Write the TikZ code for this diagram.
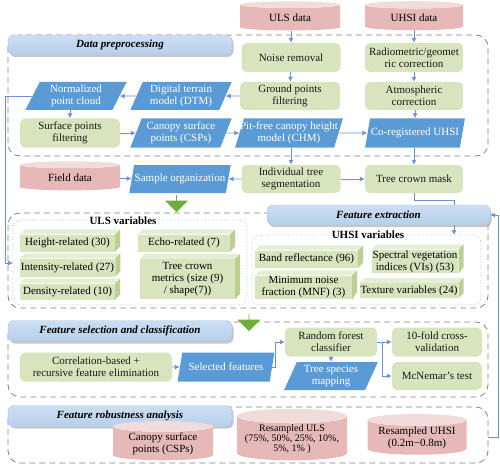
\documentclass[tikz,border=0pt]{standalone}
\usepackage{fontspec}
\setmainfont{Liberation Serif}
\usetikzlibrary{shapes.geometric,shapes.arrows,arrows.meta,shadows}
\definecolor{procgreen}{HTML}{D7E4BD}
\definecolor{vartop}{HTML}{E6EED5}
\definecolor{varside}{HTML}{BCCF92}
\definecolor{prodblue}{HTML}{5B9BD5}
\definecolor{dbbody}{HTML}{E6B9B8}
\definecolor{dbtop}{HTML}{F2DCDB}
\definecolor{bartop}{HTML}{CCDEF3}
\definecolor{barbot}{HTML}{B7CFEA}
\definecolor{barline}{HTML}{A9C4E8}
\definecolor{linkblue}{HTML}{6D92CF}
\definecolor{groupline}{HTML}{808080}
\definecolor{dotline}{HTML}{8EB4E3}
\definecolor{bigarrow}{HTML}{6DAE3C}

% 3D variable box: name, centre of front face, width, height, text
\newcommand{\varbox}[5]{%
  \node[var, minimum width=#3, minimum height=#4] (#1) at (#2) {#5};
  \fill[vartop] (#1.north west) -- ++(5,-5) -- ++(#3,0) -- (#1.north east) -- cycle;
  \fill[varside] (#1.north east) -- ++(5,-5) -- ++(0,#4) -- (#1.south east) -- cycle;
}

\begin{document}
\begin{tikzpicture}[x=1pt,y=-1pt,font=\fontsize{11}{12}\selectfont,
    proc/.style={rounded corners=5pt, fill=procgreen, text=black!90, align=center, inner sep=1pt},
    prod/.style={trapezium, trapezium left angle=70, trapezium right angle=110, trapezium stretches=true,
      fill=prodblue, text=white, align=center, inner xsep=-4pt, inner ysep=1pt},
    db/.style={cylinder, shape border rotate=90, aspect=0.15, cylinder uses custom fill,
      cylinder body fill=dbbody, cylinder end fill=dbtop, align=center, inner sep=1pt},
    var/.style={fill=procgreen, align=center, inner sep=1pt},
    bar/.style={rounded corners=6pt, top color=bartop, bottom color=barbot, draw=barline,
      font=\fontsize{11}{12}\selectfont\bfseries\itshape,
      drop shadow={shadow xshift=1.5pt, shadow yshift=-2pt, opacity=0.45}},
    group/.style={draw=groupline, dash pattern=on 6pt off 4pt, rounded corners=12pt, line width=0.8pt},
    vargroup/.style={draw=dotline, dotted, rounded corners=8pt, line width=0.7pt},
    vartitle/.style={fill=white, font=\fontsize{11}{12}\selectfont\bfseries, inner sep=2pt},
    link/.style={draw=linkblue, line width=0.8pt, -{Latex[length=5pt,width=5pt]}},
    fat/.style={single arrow, shape border rotate=270, fill=bigarrow, minimum height=17pt,
      minimum width=23pt, single arrow head extend=5pt, inner sep=0pt}
  ]
  \useasboundingbox (0,0) rectangle (500,468);

  % groups
  \draw[group] (8,35) rectangle (488,156);
  \draw[group] (8,213) rectangle (488,308);
  \draw[group] (8,322) rectangle (488,397);
  \draw[group] (8,407) rectangle (488,463);

  \node[bar, minimum width=224, minimum height=20] (dbar) at (120,45) {Data preprocessing};
  \node[bar, minimum width=224, minimum height=21] (sbar) at (120,331) {Feature selection and classification};
  \node[bar, minimum width=224, minimum height=21] (rbar) at (120,416) {Feature robustness analysis};

  % data preprocessing
  \node[db, minimum width=100, minimum height=29] (uls) at (290,18) {ULS data};
  \node[db, minimum width=98, minimum height=29] (uhsi) at (414,18) {UHSI data};
  \node[proc, minimum width=99, minimum height=29] (noise) at (291,57.5) {Noise removal};
  \node[proc, minimum width=98, minimum height=29] (radio) at (414,57.5) {Radiometric/geomet\\ric correction};
  \node[proc, minimum width=100, minimum height=28] (ground) at (290,96) {Ground points\\filtering};
  \node[proc, minimum width=98, minimum height=28] (atmo) at (414,96) {Atmospheric\\correction};
  \node[prod, minimum width=102, minimum height=28] (norm) at (76,96) {Normalized\\point cloud};
  \node[prod, minimum width=102, minimum height=28] (dtm) at (181,96) {Digital terrain\\model (DTM)};
  \node[proc, minimum width=100, minimum height=29] (surf) at (70,133) {Surface points\\filtering};
  \node[prod, minimum width=102, minimum height=29] (csp) at (181,133) {Canopy surface\\points (CSPs)};
  \node[prod, minimum width=108, minimum height=29] (chm) at (289,133) {Pit-free canopy height\\model (CHM)};
  \node[prod, minimum width=100, minimum height=29] (coreg) at (415,133) {Co-registered UHSI};
  \node[proc, minimum width=99, minimum height=28] (its) at (291,179) {Individual tree\\segmentation};
  \node[proc, minimum width=98, minimum height=28] (mask) at (414,179) {Tree crown mask};
  \node[db, minimum width=100, minimum height=29] (field) at (70,178) {Field data};
  \node[prod, minimum width=102, minimum height=28] (sample) at (180,179) {Sample organization};

  % feature extraction
  \draw[vargroup] (13,220) rectangle (247,305);
  \draw[vargroup] (252,235) rectangle (481,305);
  \coordinate (ulsin) at (13,263);
  \coordinate (uhsiin) at (454,235);
  \node[vartitle] (ulsvar) at (123,221) {ULS variables};
  \node[vartitle] (uhsivar) at (368,235) {UHSI variables};
  \varbox{height}{67.5,243}{95}{17}{Height-related (30)}
  \varbox{echo}{184,243}{92}{17}{Echo-related (7)}
  \varbox{inten}{67.5,267.5}{95}{18}{Intensity-related (27)}
  \varbox{dens}{67.5,291.5}{95}{16}{Density-related (10)}
  \varbox{crown}{187.5,279}{95}{40}{Tree crown\\metrics (size (9)\\/ shape(7))}
  \varbox{band}{306.5,259}{103}{17}{Band reflectance (96)}
  \varbox{spec}{415,261.5}{86}{23}{Spectral vegetation\\indices (VIs) (53)}
  \varbox{mnf}{303.5,287.5}{97}{21}{Minimum noise\\fraction (MNF) (3)}
  \varbox{text}{409,290.5}{98}{15}{Texture variables (24)}

  \node[fat] (fa1) at (176.5,203.5) {};
  \node[fat] (fa2) at (249,322.5) {};

  % feature selection and classification
  \node[proc, minimum width=152, minimum height=29] (corr) at (96,367) {Correlation-based +\\recursive feature elimination};
  \node[prod, minimum width=97, minimum height=29] (sel) at (226,367) {Selected features};
  \node[proc, minimum width=92, minimum height=29] (rf) at (331,342) {Random forest\\classifier};
  \node[prod, minimum width=94, minimum height=28] (map) at (331,376) {Tree species\\mapping};
  \node[proc, minimum width=90, minimum height=29] (cv) at (437,342) {10-fold cross-\\validation};
  \node[proc, minimum width=90, minimum height=28] (mcn) at (437,376) {McNemar’s test};

  % feature robustness analysis
  \node[db, minimum width=100, minimum height=28] (csp2) at (163,444) {Canopy surface\\points (CSPs)};
  \node[db, minimum width=110, minimum height=38, font=\fontsize{10}{10}\selectfont] (rsuls) at (292,439) {Resampled ULS\\(75\%, 50\%, 25\%, 10\%,\\5\%, 1\% )};
  \node[db, minimum width=99, minimum height=40] (rsuhsi) at (417,438) {Resampled UHSI\\(0.2m−0.8m)};
  \coordinate (robout) at (488,437);

  % connectors
  \draw[link] (noise.north |- uls.south) -- (noise.north);
  \draw[link] (radio.north |- uhsi.south) -- (radio.north);
  \draw[link] (noise) -- (ground);
  \draw[link] (radio) -- (atmo);
  \draw[link] (coreg.north |- atmo.south) -- (coreg.north);
  \draw[link] (ground) -- (dtm);
  \draw[link] (dtm) -- (norm);
  \draw[link] (surf.north |- norm.south) -- (surf.north);
  \draw[link] (surf) -- (csp);
  \draw[link] (csp) -- (chm);
  \draw[link] (chm) -- (coreg);
  \draw[link] (its.north |- chm.south) -- (its.north);
  \draw[link] (mask.north |- coreg.south) -- (mask.north);
  \draw[link] (its) -- (mask);
  \draw[link] (its) -- (sample);
  \draw[link] (field) -- (sample);
  \draw[link] (norm.west) -- ++(-27,0) |- (ulsin);
  \draw[link] (mask.south) -- ++(0,7) -| (uhsiin);

  \node[bar, minimum width=223, minimum height=20] (fbar) at (378.5,215) {Feature extraction};

  \draw[link] (corr) -- (sel);
  \draw[link] (sel.east) -- ++(3,0) |- (rf.west);
  \draw[link] (rf) -- (map);
  \draw[link] (rf) -- (cv);
  \draw[link] (rf.east) -- ++(5,0) |- (mcn.west);
  \draw[link] (robout) -- ++(10,0) |- (fbar.east);
\end{tikzpicture}
\end{document}
